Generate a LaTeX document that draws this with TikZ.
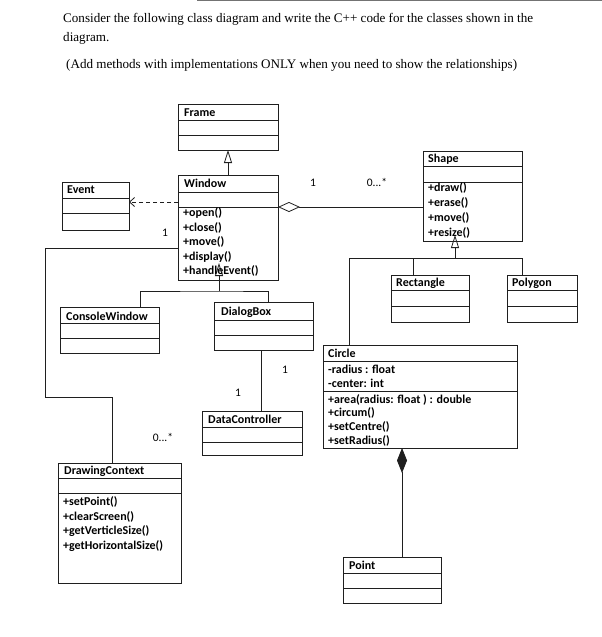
\documentclass[tikz,border=0pt]{standalone}
\usepackage{fontspec}
\setmainfont{Liberation Serif}
\newfontfamily\carl{Carlito}
\usetikzlibrary{arrows.meta}
\definecolor{ln}{gray}{0.12}
\newcommand\umlclass[7]{%
  \node[cls, minimum width=#4pt, minimum height=#5pt, anchor=north west] (#1) at (#2,#3) {};
  \draw[sep] ([yshift=-#6pt]#1.north west) -- ([yshift=-#6pt]#1.north east);
  \draw[sep] ([yshift=-#7pt]#1.north west) -- ([yshift=-#7pt]#1.north east);
}
\begin{document}
\begin{tikzpicture}[x=1pt,y=-1pt,
  cls/.style={draw=ln, line width=0.8pt, rectangle, inner sep=0pt, outer sep=0pt},
  sep/.style={draw=ln, line width=0.7pt},
  lbl/.style={font=\carl\bfseries\fontsize{12}{14}\selectfont, anchor=west, inner sep=0pt, text=black},
  mult/.style={font=\carl\fontsize{11.5}{13}\selectfont, inner sep=0pt, text=black},
  head/.style={font=\fontsize{13.1}{15}\selectfont, anchor=base west, inner sep=0pt, text=black},
  conn/.style={draw=ln, line width=0.8pt},
  gen/.style={conn, -{Triangle[open, width=8pt, length=13pt]}},
  dep/.style={conn, dash pattern=on 4pt off 3pt, -{Straight Barb[length=5pt, width=9pt]}},
]
\useasboundingbox (0,0) rectangle (602,637);
\fill[white] (0,0) rectangle (602,637);
\draw[black!55, line width=1pt] (197,0.8) -- (602,0.8);

% heading
\node[head] (t1) at (63,22) {Consider the following class diagram and write the C++ code for the classes shown in the};
\node[head] (t2) at (63,41) {diagram.};
\node[head] (t3) at (66,68) {(Add methods with implementations ONLY when you need to show the relationships)};

% classes
\umlclass{frame}{178}{104}{100}{46}{16}{31}
\umlclass{window}{178}{175}{100}{105}{17}{32}
\umlclass{event}{62}{182}{67}{48}{16}{31}
\umlclass{shape}{423}{151}{99}{90}{15}{31}
\umlclass{rect}{391}{275}{78}{47}{15}{31}
\umlclass{polygon}{507}{275}{70}{47}{15}{31}
\umlclass{console}{60}{307}{99}{46}{16}{31}
\umlclass{dialog}{214}{302}{99}{48}{18}{33}
\umlclass{datac}{202}{411}{100}{44}{16}{31}
\umlclass{circ}{323}{345}{194}{103}{16}{46}
\umlclass{drawing}{58}{463}{123}{120}{15}{30}
\umlclass{point}{343}{557}{98}{46}{16}{31}

% connectors
\draw[gen] (window.north) -- (frame.south);
\draw[dep] ([yshift=-27pt]window.north west) -- ([yshift=-20pt]event.north east);
\draw[conn, {Diamond[open, fill=white, length=22pt, width=10pt]}-] ([yshift=-32pt]window.north east) -- ([yshift=-56pt]shape.north west);
\draw[conn] ([yshift=-73pt]window.north west) -- ++(-133,0) |- ([xshift=54pt,yshift=66pt]drawing.north west) -- ([xshift=54pt]drawing.north west);
\coordinate (wj) at (219,291);
\draw[conn] ([xshift=80pt]console.north west) |- (wj) -| ([xshift=54pt]dialog.north west);
\draw[gen] (wj) -- ([xshift=41pt,yshift=17pt]window.south west);
\coordinate (sj) at (455,258);
\draw[conn] ([xshift=26pt]circ.north west) |- ([xshift=15pt,yshift=17pt]polygon.north west) -- ([xshift=15pt]polygon.north west);
\draw[conn] ([xshift=22pt]rect.north west) -- ++(0,-17);
\draw[gen] (sj) -- ([xshift=32pt,yshift=6pt]shape.south west);
\draw[conn] ([xshift=47pt]dialog.south west) -- ([xshift=59pt]datac.north west);
\draw[conn, {Diamond[fill=ln, length=25pt, width=10pt]}-] ([xshift=79pt]circ.south west) -- ([xshift=59pt]point.north west);

% multiplicities
\node[mult] (m1) at (165,233) {1};
\node[mult] (m2) at (163,437) {0...*};
\node[mult] (m3) at (313,183) {1};
\node[mult] (m4) at (377,182) {0...*};
\node[mult] (m5) at (285,370) {1};
\node[mult] (m6) at (238,393) {1};

% texts
\node[lbl] at (184,113) {Frame};
\node[lbl] at (184,183) {Window};
\node[lbl] at (183,213) {+open()};
\node[lbl] at (183,228) {+close()};
\node[lbl] at (183,242) {+move()};
\node[lbl] at (183,257) {+display()};
\node[lbl] at (183,271) {+handleEvent()};
\node[lbl] at (67,190) {Event};
\node[lbl] at (428,159) {Shape};
\node[lbl] at (428,188) {+draw()};
\node[lbl] at (428,203) {+erase()};
\node[lbl] at (428,218) {+move()};
\node[lbl] at (428,233) {+resize()};
\node[lbl] at (396,283) {Rectangle};
\node[lbl] at (512,283) {Polygon};
\node[lbl] at (66,316) {ConsoleWindow};
\node[lbl] at (221,312) {DialogBox};
\node[lbl] at (208,419) {DataController};
\node[lbl] at (328,353) {Circle};
\node[lbl] at (328,369) {-radius : float};
\node[lbl] at (328,383) {-center: int};
\node[lbl] at (328,400) {+area(radius: float ) : double};
\node[lbl] at (328,413) {+circum()};
\node[lbl] at (328,427) {+setCentre()};
\node[lbl] at (328,441) {+setRadius()};
\node[lbl] at (64,471) {DrawingContext};
\node[lbl] at (63,502) {+setPoint()};
\node[lbl] at (63,517) {+clearScreen()};
\node[lbl] at (63,531) {+getVerticleSize()};
\node[lbl] at (63,546) {+getHorizontalSize()};
\node[lbl] at (349,565) {Point};
\end{tikzpicture}
\end{document}
